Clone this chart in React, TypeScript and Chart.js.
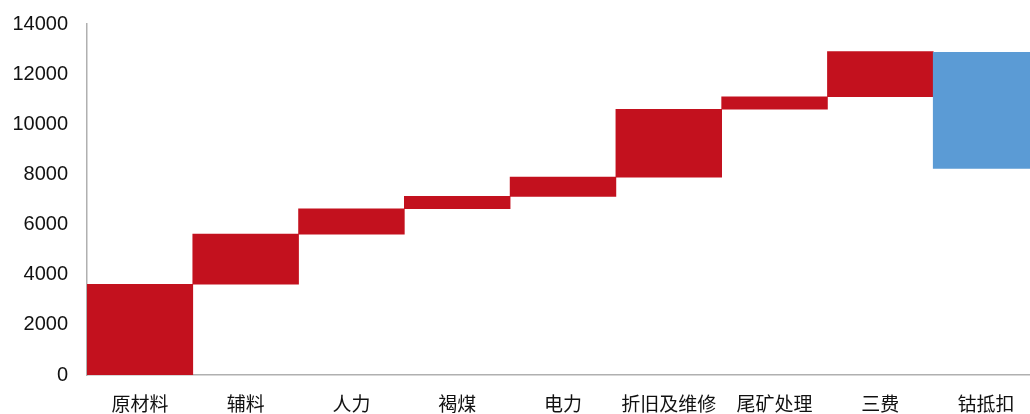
import React, { useEffect, useRef } from "react";
import { Chart, registerables } from "chart.js";

Chart.register(...registerables);

const categories = ["原材料", "辅料", "人力", "褐煤", "电力", "折旧及维修", "尾矿处理", "三费", "钴抵扣"];
const barStarts = [0, 3620, 5620, 6630, 7120, 7890, 10600, 11100, 12870];
const barEnds = [3620, 5620, 6630, 7130, 7890, 10600, 11100, 12900, 8240];
const barColors = ["#C3111E", "#C3111E", "#C3111E", "#C3111E", "#C3111E", "#C3111E", "#C3111E", "#C3111E", "#5B9BD5"];
const yTicks = [0, 2000, 4000, 6000, 8000, 10000, 12000, 14000];

const FONT = '"Liberation Sans", Arial, "Noto Sans CJK SC", sans-serif';

export default function App() {
  const ref = useRef<HTMLCanvasElement | null>(null);

  useEffect(() => {
    if (!ref.current) return;
    const chart = new Chart(ref.current, {
      type: "bar",
      data: {
        labels: categories,
        datasets: [
          {
            data: categories.map((_, i) => [barStarts[i], barEnds[i]]) as any,
            backgroundColor: barColors,
            borderWidth: 0,
            borderSkipped: false,
            categoryPercentage: 1,
            barPercentage: 1,
          },
        ],
      },
      options: {
        animation: false,
        responsive: false,
        maintainAspectRatio: false,
        layout: { padding: { top: 24, right: 1, left: 0, bottom: 0 } },
        plugins: { legend: { display: false }, tooltip: { enabled: false } },
        scales: {
          x: {
            grid: { display: false, drawTicks: false },
            border: { display: true, color: "#B0B0B0", width: 1.5 },
            ticks: {
              padding: 19,
              color: "#111",
              font: { family: FONT, size: 19 },
              maxRotation: 0,
              autoSkip: false,
            },
            afterFit: (s: any) => {
              s.height = 39;
              s.paddingLeft = 0;
              s.paddingRight = 0;
            },
          },
          y: {
            min: 0,
            max: 14000,
            afterBuildTicks: (s: any) => {
              s.ticks = yTicks.map((v) => ({ value: v }));
            },
            grid: { display: false, drawTicks: false },
            border: { display: true, color: "#B0B0B0", width: 1.5 },
            ticks: {
              padding: 19,
              color: "#111",
              font: { family: FONT, size: 20 },
              callback: (v: any) => String(v),
            },
            afterFit: (s: any) => {
              s.width = 87;
              s.paddingTop = 0;
              s.paddingBottom = 0;
            },
          },
        },
      },
    });
    return () => chart.destroy();
  }, []);

  return (
    <div style={{ position: "fixed", left: 0, top: 0, width: 1040, height: 414, background: "#fff" }}>
      <canvas ref={ref} width={1040} height={414} style={{ display: "block" }} />
    </div>
  );
}
